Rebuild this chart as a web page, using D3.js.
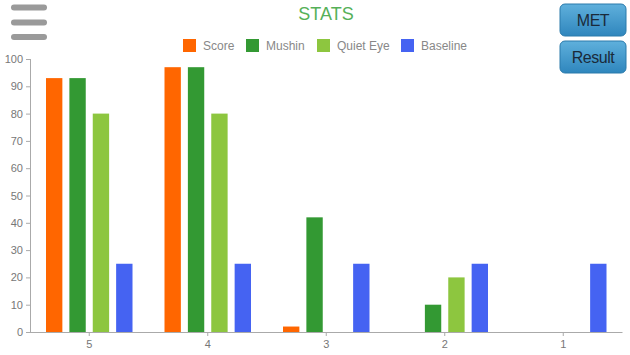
<!DOCTYPE html>
<html><head><meta charset="utf-8">
<script src="https://cdn.jsdelivr.net/npm/d3@7"></script>
<style>
body{margin:0;background:#fff;font-family:"Liberation Sans",Arial,sans-serif;}
svg{display:block;}
</style></head>
<body>
<svg id="c" width="630" height="355"></svg>
<script>
const categories = ["5","4","3","2","1"];
const seriesNames = ["Score","Mushin","Quiet Eye","Baseline"];
const seriesColors = ["#ff6600","#339933","#8dc63f","#4563f2"];
const score = [93, 97, 2, 0, 0];
const mushin = [93, 97, 42, 10, 0];
const quietEye = [80, 80, 0, 20, 0];
const baseline = [25, 25, 25, 25, 25];
const yTicks = [0,10,20,30,40,50,60,70,80,90,100];
const seriesValues = [score, mushin, quietEye, baseline];

const svg = d3.select("#c");
const mLeft = 30, mRight = 622.5, mTop = 59, mBottom = 332;

// hamburger
const hb = svg.append("g");
[7.5, 22.5, 37].forEach(yy => {
  hb.append("rect").attr("x", 11).attr("y", yy - 3).attr("width", 36).attr("height", 6)
    .attr("rx", 3).attr("fill", "#9a9a9a");
});

// title
svg.append("text").attr("x", 326).attr("y", 20).attr("text-anchor", "middle")
  .attr("font-size", 18).attr("fill", "#55b058").text("STATS");

// legend
const legX = [183, 246, 317, 401];
seriesNames.forEach((n, i) => {
  svg.append("rect").attr("x", legX[i]).attr("y", 39).attr("width", 13).attr("height", 13)
    .attr("fill", seriesColors[i]);
  svg.append("text").attr("x", legX[i] + 20).attr("y", 49.5).attr("font-size", 12)
    .attr("fill", "#888").text(n);
});

// buttons
const defs = svg.append("defs");
const grad = defs.append("linearGradient").attr("id", "bg").attr("x1", 0).attr("y1", 0).attr("x2", 0).attr("y2", 1);
grad.append("stop").attr("offset", "0%").attr("stop-color", "#5fb0dc");
grad.append("stop").attr("offset", "100%").attr("stop-color", "#2f86bd");
[["MET", 4], ["Result", 41]].forEach(([t, yy]) => {
  svg.append("rect").attr("x", 560).attr("y", yy).attr("width", 66).attr("height", 32)
    .attr("rx", 5).attr("fill", "url(#bg)").attr("stroke", "#2a7aab").attr("stroke-width", 1);
  svg.append("text").attr("x", 593).attr("y", yy + 22).attr("text-anchor", "middle")
    .attr("font-size", 16).attr("letter-spacing", -0.5).attr("fill", "#1a2a3a").text(t);
});

// scales
const x0 = d3.scaleBand().domain(categories).range([mLeft, mRight]).padding(0);
const x1 = d3.scaleBand().domain(seriesNames).range([16, x0.bandwidth() - 16]).paddingInner(0.3);
const y = d3.scaleLinear().domain([0, 100]).range([mBottom, mTop]);

// bars
const g = svg.append("g");
categories.forEach((c, ci) => {
  seriesNames.forEach((s, si) => {
    const v = seriesValues[si][ci];
    if (v <= 0) return;
    g.append("rect")
      .attr("x", x0(c) + x1(s)).attr("width", x1.bandwidth())
      .attr("y", y(v)).attr("height", y(0) - y(v))
      .attr("fill", seriesColors[si]);
  });
});

// axes
const yAxis = svg.append("g").attr("transform", `translate(${mLeft},0)`)
  .call(d3.axisLeft(y).tickValues(yTicks).tickSize(4).tickPadding(3));
const xAxis = svg.append("g").attr("transform", `translate(0,${mBottom})`)
  .call(d3.axisBottom(x0).tickSize(4).tickPadding(4));
[yAxis, xAxis].forEach(a => {
  a.selectAll("path").attr("stroke", "#aaa");
  a.selectAll("line").attr("stroke", "#aaa");
  a.selectAll("text").attr("fill", "#777").attr("font-size", 11)
    .attr("font-family", "'Liberation Sans',Arial,sans-serif");
});
xAxis.select("path").attr("d", `M${mLeft},0.5H${mRight}`);
yAxis.select("path").attr("d", `M0.5,${mBottom}V${mTop}`);
</script>
</body></html>
